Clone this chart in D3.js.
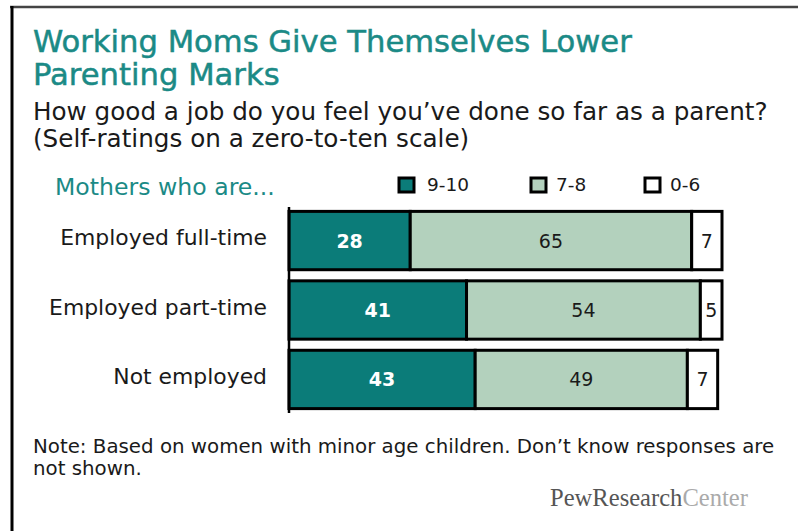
<!DOCTYPE html>
<html><head><meta charset="utf-8">
<script src="https://cdn.jsdelivr.net/npm/d3@7"></script>
<style>html,body{margin:0;padding:0;background:#fff;}svg{display:block;}</style>
</head><body>
<script>
const categories = ["Employed full-time", "Employed part-time", "Not employed"];
const seriesKeys = ["9-10", "7-8", "0-6"];
const values9to10 = [28, 41, 43];
const values7to8 = [65, 54, 49];
const values0to6 = [7, 5, 7];
const seriesColors = ["#0b7c79", "#b3d1bd", "#ffffff"];
const labelColors = ["#ffffff", "#1a1a1a", "#1a1a1a"];

const W = 798, H = 531;
const FONT = "'DejaVu Sans', Verdana, sans-serif";
const svg = d3.select("body").append("svg").attr("width", W).attr("height", H);

const rows = categories.map((c, i) => ({cat: c, "9-10": values9to10[i], "7-8": values7to8[i], "0-6": values0to6[i]}));
const stacked = d3.stack().keys(seriesKeys)(rows);

const x = d3.scaleLinear().domain([0, 100]).range([289, 722]);
const y = d3.scaleBand().domain(categories).range([210, 410]).paddingInner(0.16).paddingOuter(0.02);

// frame
svg.append("line").attr("x1", 10).attr("x2", W).attr("y1", 7).attr("y2", 7).attr("stroke", "#444").attr("stroke-width", 2.5);
svg.append("line").attr("x1", 12).attr("x2", 12).attr("y1", 6).attr("y2", H).attr("stroke", "#000").attr("stroke-width", 3);

function fit(sel, target) {
  const fs = parseFloat(sel.attr("font-size"));
  const len = sel.node().getComputedTextLength();
  const nfs = fs * target / len;
  sel.attr("font-size", nfs);
  return nfs;
}
function txt(t, xx, yy, fs, color, anchor, fam) {
  return svg.append("text").attr("x", xx).attr("y", yy).attr("font-family", fam || FONT)
    .attr("font-size", fs).attr("fill", color).attr("text-anchor", anchor || "start").text(t);
}

// title
const t1 = txt("Working Moms Give Themselves Lower", 33, 52, 26, "#1b8a86").attr("stroke", "#1b8a86").attr("stroke-width", 0.5);
const tfs = fit(t1, 599);
txt("Parenting Marks", 33, 85, tfs, "#1b8a86").attr("stroke", "#1b8a86").attr("stroke-width", 0.5);
const s1 = txt("How good a job do you feel you\u2019ve done so far as a parent?", 33, 120, 21, "#1a1a1a");
const sfs = fit(s1, 735);
txt("(Self-ratings on a zero-to-ten scale)", 33, 147, sfs, "#1a1a1a");

// Mothers who are
const m = txt("Mothers who are...", 55, 195, 18, "#1b8a86");
fit(m, 220);

// legend
const legendX = [399, 531, 645];
const lg = svg.append("g");
seriesKeys.forEach((k, i) => {
  lg.append("rect").attr("x", legendX[i]).attr("y", 178).attr("width", 15).attr("height", 14)
    .attr("fill", seriesColors[i]).attr("stroke", "#000").attr("stroke-width", 3);
  lg.append("text").attr("x", legendX[i] + (i === 0 ? 28 : 25)).attr("y", 191).attr("font-family", FONT)
    .attr("font-size", 18.5).attr("fill", "#1a1a1a").text(k);
});

// category labels
let cfs = null;
categories.forEach((c, i) => {
  const t = txt(c, 267, y(c) + y.bandwidth() / 2 + 4.5, 19, "#1a1a1a", "end");
  if (i === 0) cfs = fit(t, 207); else t.attr("font-size", cfs);
});

// bars
const g = svg.append("g");
stacked.forEach((s, si) => {
  g.selectAll(null).data(s).enter().append("rect")
    .attr("x", d => x(d[0])).attr("width", d => x(d[1]) - x(d[0]))
    .attr("y", d => y(d.data.cat)).attr("height", y.bandwidth())
    .attr("fill", seriesColors[si]).attr("stroke", "#000").attr("stroke-width", 3);
});
stacked.forEach((s, si) => {
  g.selectAll(null).data(s).enter().append("text")
    .attr("x", d => (x(d[0]) + x(d[1])) / 2).attr("y", d => y(d.data.cat) + y.bandwidth() / 2 + 7)
    .attr("text-anchor", "middle").attr("font-family", FONT).attr("font-size", 19)
    .attr("font-weight", si === 0 ? "bold" : "normal")
    .attr("fill", labelColors[si]).text(d => d[1] - d[0]);
});
// axis line
svg.append("line").attr("x1", x(0)).attr("x2", x(0)).attr("y1", 207).attr("y2", 413).attr("stroke", "#000").attr("stroke-width", 2.5);

// note
const n1 = txt("Note: Based on women with minor age children. Don\u2019t know responses are", 33, 453, 16, "#1a1a1a");
const nfs = fit(n1, 742);
txt("not shown.", 33, 475, nfs, "#1a1a1a");

// logo
const logo = svg.append("text").attr("x", 550).attr("y", 506).attr("font-family", "'Liberation Serif', serif").attr("font-size", 17);
logo.append("tspan").attr("fill", "#555").text("PewResearch");
logo.append("tspan").attr("fill", "#aaa").text("Center");
fit(logo, 198);
</script>
</body></html>
